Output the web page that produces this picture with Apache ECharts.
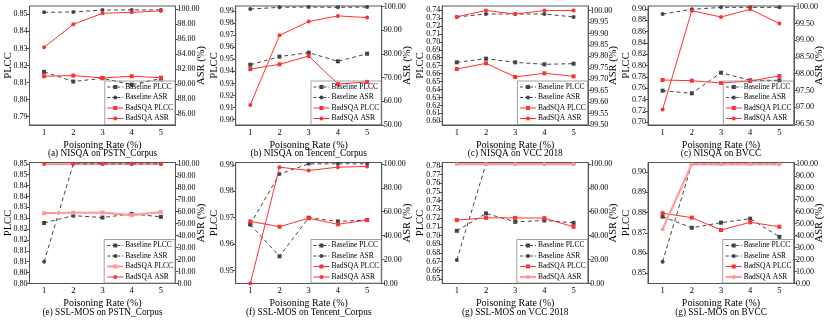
<!DOCTYPE html>
<html><head><meta charset="utf-8">
<script src="https://cdn.jsdelivr.net/npm/echarts@6/dist/echarts.min.js"></script>
<style>html,body{margin:0;padding:0;background:#fff}#c{width:830px;height:322px}</style>
</head><body><div id="c"></div>
<script>
// ---------- DATA ----------
const categories = ['1', '2', '3', '4', '5'];
const seriesNames = ['Baseline PLCC', 'Baseline ASR', 'BadSQA PLCC', 'BadSQA ASR'];
const captions = [
  '(a) NISQA on PSTN_Corpus', '(b) NISQA on Tencent_Corpus', '(c) NISQA on VCC 2018', '(c) NISQA on BVCC',
  '(e) SSL-MOS on PSTN_Corpus', '(f) SSL-MOS on Tencent_Corpus', '(g) SSL-MOS on VCC 2018', '(g) SSL-MOS on BVCC'
];

// (a) NISQA on PSTN_Corpus
const aBasePLCC = [0.8163, 0.8106, 0.8125, 0.8088, 0.8123];
const aBaseASR  = [99.60, 99.64, 99.90, 99.92, 99.92];
const aBadPLCC  = [0.8137, 0.8141, 0.8127, 0.8137, 0.8128];
const aBadASR   = [94.93, 98.00, 99.47, 99.60, 99.78];
const aPLCCTicks = [0.79, 0.80, 0.81, 0.82, 0.83, 0.84, 0.85];
const aASRTicks  = [86, 88, 90, 92, 94, 96, 98, 100];
const aPLCCRange = [0.7851, 0.8549];
const aASRRange  = [84.58, 100.44];

// (b) NISQA on Tencent_Corpus
const bBasePLCC = [0.9455, 0.9522, 0.9555, 0.9483, 0.9546];
const bBaseASR  = [99.0, 99.7, 99.86, 99.7, 99.86];
const bBadPLCC  = [0.9419, 0.9458, 0.9527, 0.9295, 0.9313];
const bBadASR   = [58.5, 87.9, 93.7, 96.1, 95.4];
const bPLCCTicks = [0.90, 0.91, 0.92, 0.93, 0.94, 0.95, 0.96, 0.97, 0.98, 0.99];
const bASRTicks  = [50, 60, 70, 80, 90, 100];
const bPLCCRange = [0.8956, 0.9941];
const bASRRange  = [50, 100.28];

// (c) NISQA on VCC 2018
const cBasePLCC = [0.6742, 0.6788, 0.6742, 0.6717, 0.6725];
const cBaseASR  = [99.972, 99.985, 99.985, 99.985, 99.972];
const cBadPLCC  = [0.6658, 0.6729, 0.6558, 0.6604, 0.6566];
const cBadASR   = [99.973, 100.0, 99.985, 100.0, 100.0];
const cPLCCTicks = [0.60, 0.61, 0.62, 0.63, 0.64, 0.65, 0.66, 0.67, 0.68, 0.69, 0.70, 0.71, 0.72, 0.73, 0.74];
const cASRTicks  = [99.50, 99.55, 99.60, 99.65, 99.70, 99.75, 99.80, 99.85, 99.90, 99.95, 100.00];
const cPLCCRange = [0.5954, 0.745];
const cASRRange  = [99.5, 100.02];

// (d) NISQA on BVCC
const dBasePLCC = [0.7559, 0.7512, 0.7876, 0.7741, 0.7741];
const dBaseASR  = [99.78, 99.92, 99.98, 99.98, 99.98];
const dBadPLCC  = [0.7747, 0.7735, 0.7694, 0.7729, 0.7818];
const dBadASR   = [96.93, 99.88, 99.69, 99.92, 99.50];
const dPLCCTicks = [0.70, 0.72, 0.74, 0.76, 0.78, 0.80, 0.82, 0.84, 0.86, 0.88, 0.90];
const dASRTicks  = [96.5, 97.0, 97.5, 98.0, 98.5, 99.0, 99.5, 100.0];
const dPLCCRange = [0.6953, 0.9053];
const dASRRange  = [96.47, 100.02];

// (e) SSL-MOS on PSTN_Corpus
const eBasePLCC = [0.8278, 0.8312, 0.8303, 0.8320, 0.8306];
const eBaseASR  = [18.2, 100, 100, 100, 100];
const eBadPLCC  = [0.8323, 0.8325, 0.8326, 0.8314, 0.8328];
const eBadASR   = [99.8, 99.8, 99.8, 99.8, 99.8];
const ePLCCTicks = [0.800, 0.805, 0.810, 0.815, 0.820, 0.825, 0.830, 0.835, 0.840, 0.845, 0.850, 0.855];
const eASRTicks  = [0, 10, 20, 30, 40, 50, 60, 70, 80, 90, 100];
const ePLCCRange = [0.80, 0.8556];
const eASRRange  = [0, 101.1];

// (f) SSL-MOS on Tencent_Corpus
const fBasePLCC = [0.9674, 0.9554, 0.9700, 0.9686, 0.9691];
const fBaseASR  = [49.4, 91.4, 100, 100, 100];
const fBadPLCC  = [0.9686, 0.9666, 0.9698, 0.9675, 0.9691];
const fBadASR   = [0.0, 97.2, 94.4, 97.2, 97.8];
const fPLCCTicks = [0.95, 0.96, 0.97, 0.98, 0.99];
const fASRTicks  = [0, 20, 40, 60, 80, 100];
const fPLCCRange = [0.9451, 0.9909];
const fASRRange  = [0, 101.1];

// (g) SSL-MOS on VCC 2018
const gBasePLCC = [0.7054, 0.7254, 0.7157, 0.7173, 0.7146];
const gBaseASR  = [19.7, 100, 100, 100, 100];
const gBadPLCC  = [0.7177, 0.7203, 0.7203, 0.7200, 0.7100];
const gBadASR   = [99.8, 99.8, 99.8, 99.8, 99.8];
const gPLCCTicks = [0.65, 0.66, 0.67, 0.68, 0.69, 0.70, 0.71, 0.72, 0.73, 0.74, 0.75, 0.76, 0.77, 0.78];
const gASRTicks  = [0, 20, 40, 60, 80, 100];
const gPLCCRange = [0.645, 0.7838];
const gASRRange  = [0, 101.1];

// (h) SSL-MOS on BVCC
const hBasePLCC = [0.8780, 0.8725, 0.8750, 0.8770, 0.8680];
const hBaseASR  = [18.2, 100, 100, 100, 100];
const hBadPLCC  = [0.8797, 0.8775, 0.8714, 0.8752, 0.8730];
const hBadASR   = [45.4, 99.6, 99.6, 99.6, 99.6];
const hPLCCTicks = [0.85, 0.86, 0.87, 0.88, 0.89, 0.90];
const hASRTicks  = [0, 10, 20, 30, 40, 50, 60, 70, 80, 90, 100];
const hPLCCRange = [0.8449, 0.9048];
const hASRRange  = [0, 101.1];

// which BadSQA line is drawn pale in each panel (index into seriesNames, -1 = none)
const paleSeries = [-1, -1, -1, -1, 2, -1, 3, 3];

// ---------- BUILD ----------
const panels = [
  [aBasePLCC, aBaseASR, aBadPLCC, aBadASR, aPLCCTicks, aASRTicks, aPLCCRange, aASRRange],
  [bBasePLCC, bBaseASR, bBadPLCC, bBadASR, bPLCCTicks, bASRTicks, bPLCCRange, bASRRange],
  [cBasePLCC, cBaseASR, cBadPLCC, cBadASR, cPLCCTicks, cASRTicks, cPLCCRange, cASRRange],
  [dBasePLCC, dBaseASR, dBadPLCC, dBadASR, dPLCCTicks, dASRTicks, dPLCCRange, dASRRange],
  [eBasePLCC, eBaseASR, eBadPLCC, eBadASR, ePLCCTicks, eASRTicks, ePLCCRange, eASRRange],
  [fBasePLCC, fBaseASR, fBadPLCC, fBadASR, fPLCCTicks, fASRTicks, fPLCCRange, fASRRange],
  [gBasePLCC, gBaseASR, gBadPLCC, gBadASR, gPLCCTicks, gASRTicks, gPLCCRange, gASRRange],
  [hBasePLCC, hBaseASR, hBadPLCC, hBadASR, hPLCCTicks, hASRTicks, hPLCCRange, hASRRange]
];

const FONT = '"Liberation Serif", "Times New Roman", serif';
const AX = '#555';
const GREY = '#444';
const RED = '#ff3030';
const PALE = '#ff9a9a';
const W = 830, H = 322;
const gridLefts = [29.5, 235.7, 442.2, 648];
const gridW = 146;
const rowTop = [6, 162.5];
const rowH = [119, 121];

const grid = [], xAxis = [], yAxis = [], series = [], legend = [], graphic = [];

const plccFmt = v => (Math.floor(v * 100 + 1e-6) / 100).toFixed(2);
const asrFmt = v => v.toFixed(2);

panels.forEach((p, i) => {
  const [bp, ba, sp, sa, lt, rt, lr, rr] = p;
  const col = i % 4, row = Math.floor(i / 4);
  const left = gridLefts[col], top = rowTop[row], h = rowH[row];
  grid.push({left, top, width: gridW, height: h, show: true, borderColor: AX, borderWidth: 1, containLabel: false});
  xAxis.push({
    gridIndex: i, type: 'category', data: categories, boundaryGap: true,
    name: 'Poisoning Rate (%)', nameLocation: 'middle', nameGap: 15, nameMoveOverlap: false,
    nameTextStyle: {fontFamily: FONT, fontSize: 10, color: '#000'},
    axisLine: {lineStyle: {color: AX, width: 1}},
    axisTick: {alignWithLabel: true, length: 3, lineStyle: {color: AX}},
    axisLabel: {margin: 3, fontSize: 8.5, color: '#000', fontFamily: FONT}
  });
  yAxis.push({
    gridIndex: i, type: 'value', position: 'left', min: lr[0], max: lr[1],
    name: 'PLCC', nameLocation: 'middle', nameGap: 16, nameRotate: 90, nameMoveOverlap: false,
    nameTextStyle: {fontFamily: FONT, fontSize: 10.5, color: '#000'},
    splitLine: {show: false},
    axisLine: {show: true, lineStyle: {color: AX, width: 1}},
    axisTick: {show: true, length: 3, customValues: lt, lineStyle: {color: AX}},
    axisLabel: {customValues: lt, formatter: plccFmt, fontSize: 8, color: '#000', fontFamily: FONT, margin: 2}
  });
  yAxis.push({
    gridIndex: i, type: 'value', position: 'right', min: rr[0], max: rr[1],
    name: 'ASR (%)', nameLocation: 'middle', nameGap: 20, nameRotate: 90, nameMoveOverlap: false,
    nameTextStyle: {fontFamily: FONT, fontSize: 10.5, color: '#000'},
    splitLine: {show: false},
    axisLine: {show: true, lineStyle: {color: AX, width: 1}},
    axisTick: {show: true, length: 3, customValues: rt, lineStyle: {color: AX}},
    axisLabel: {customValues: rt, formatter: asrFmt, fontSize: 8, color: '#000', fontFamily: FONT, margin: 2}
  });
  const vals = [bp, ba, sp, sa];
  const legendData = [];
  vals.forEach((v, k) => {
    const isBase = k < 2;
    const pale = paleSeries[i] === k;
    const color = isBase ? GREY : (pale ? PALE : RED);
    series.push({
      type: 'line', name: seriesNames[k], xAxisIndex: i, yAxisIndex: i * 2 + (k % 2),
      data: v, symbol: k % 2 === 0 ? 'rect' : 'circle', symbolSize: 4,
      lineStyle: {color, width: pale ? 2.2 : 1, type: isBase ? [4, 3] : 'solid'},
      itemStyle: {color}, z: isBase ? 2 : 3, animation: false
    });
    legendData.push({
      name: seriesNames[k],
      lineStyle: {color, width: pale ? 2.2 : 1, type: isBase ? [3, 2] : 'solid'},
      itemStyle: {color}
    });
  });
  legend.push({
    data: legendData, orient: 'vertical',
    right: W - (left + gridW) + 0.5, bottom: H - (top + h) + 0.5,
    itemWidth: 16, itemHeight: 5, itemGap: 2.5, padding: [2, 2, 2, 2],
    borderColor: '#888', borderWidth: 0.8, backgroundColor: 'rgba(255,255,255,0)',
    textStyle: {fontFamily: FONT, fontSize: 7.5, color: '#000', padding: [0, 0, 0, -3]},
    selectedMode: false
  });
  graphic.push({
    type: 'text', x: left + gridW / 2, y: top + h + 29,
    style: {text: captions[i], textAlign: 'center', textVerticalAlign: 'middle',
            font: '9.3px ' + FONT, fill: '#000'}
  });
});

const chart = echarts.init(document.getElementById('c'), null, {renderer: 'canvas'});
chart.setOption({animation: false, grid, xAxis, yAxis, series, legend, graphic});
</script></body></html>
